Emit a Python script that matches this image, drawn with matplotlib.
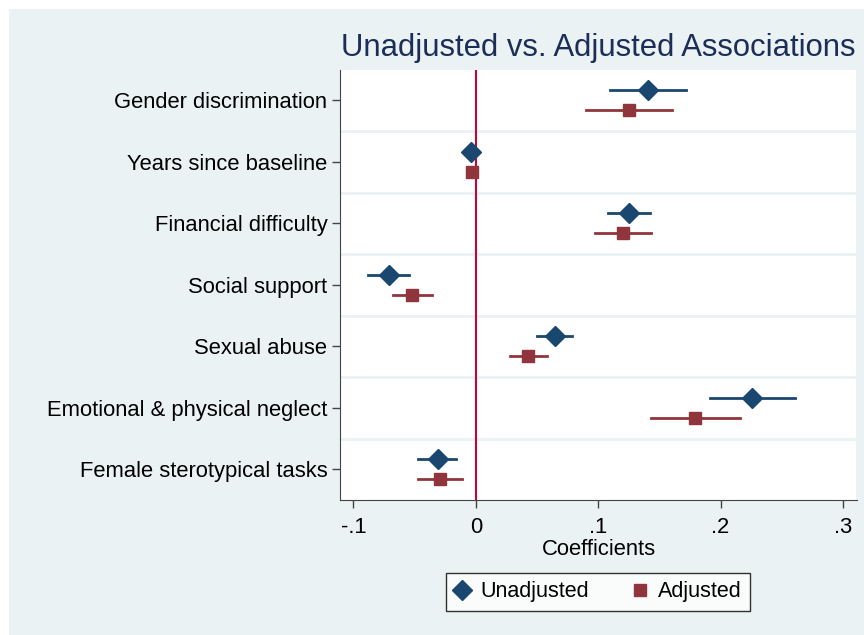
import numpy as np
import matplotlib
matplotlib.use("Agg")
import matplotlib.pyplot as plt
from matplotlib.lines import Line2D
from matplotlib.patches import Rectangle

plt.rcParams['font.family'] = ['Liberation Sans', 'DejaVu Sans']

labels = ["Gender discrimination", "Years since baseline", "Financial difficulty",
          "Social support", "Sexual abuse", "Emotional & physical neglect",
          "Female sterotypical tasks"]

# unadjusted estimates and 95% CI
unadj = [0.141, -0.004, 0.125, -0.071, 0.065, 0.226, -0.031]
unadj_lo = [0.110, -0.005, 0.108, -0.088, 0.050, 0.191, -0.047]
unadj_hi = [0.172, -0.003, 0.142, -0.055, 0.079, 0.261, -0.016]

# adjusted estimates and 95% CI
adj = [0.125, -0.003, 0.120, -0.052, 0.043, 0.179, -0.029]
adj_lo = [0.090, -0.004, 0.097, -0.068, 0.028, 0.143, -0.047]
adj_hi = [0.160, -0.002, 0.143, -0.036, 0.058, 0.216, -0.011]

xticks = [-0.1, 0, 0.1, 0.2, 0.3]
xticklabels = ["-.1", "0", ".1", ".2", ".3"]

navy = '#1a476f'
maroon = '#90353b'
bg = '#eaf2f3'
fs = 15.8

fig = plt.figure(figsize=(8.64, 6.35), dpi=100, facecolor='white')
# stata style outer region
fig.patches.append(Rectangle((9 / 864, 0), 1, 1 - 9 / 635, transform=fig.transFigure,
                             facecolor=bg, edgecolor='none', zorder=-10))

ax = fig.add_axes([340 / 864, 1 - 500 / 635, (857 - 340) / 864, (500 - 69.5) / 635])
ax.set_facecolor('white')

y = np.arange(len(labels))
off = 0.165

for i in range(len(labels)):
    ax.plot([unadj_lo[i], unadj_hi[i]], [y[i] - off] * 2, color=navy, lw=2, zorder=3)
    ax.plot([adj_lo[i], adj_hi[i]], [y[i] + off] * 2, color=maroon, lw=2, zorder=3)
ax.plot(unadj, y - off, 'D', color=navy, ms=10.3, mec=navy, ls='none', zorder=4)
ax.plot(adj, y + off, 's', color=maroon, ms=8.8, mec=maroon, ls='none', zorder=4)

for g in np.arange(0.5, len(labels) - 0.5, 1):
    ax.axhline(g, color=bg, lw=2, zorder=1)
ax.axvline(0, color='#c10534', lw=1.5, zorder=2)

ax.set_ylim(len(labels) - 0.5, -0.5)
ax.set_xlim(-0.111, 0.3115)
ax.set_yticks(y)
ax.set_yticklabels(labels, fontsize=fs)
ax.set_xticks(xticks)
ax.set_xticklabels(xticklabels, fontsize=fs)
ax.tick_params(axis='y', direction='out', length=6, width=1, color='#444444', pad=3)
ax.tick_params(axis='x', direction='out', length=6, width=1, color='#444444', pad=6)
ax.set_xlabel("Coefficients", fontsize=fs, labelpad=1)

ax.spines['top'].set_visible(False)
ax.spines['right'].set_color(bg)
ax.spines['right'].set_linewidth(2)
ax.spines['left'].set_color('#444444')
ax.spines['bottom'].set_color('#444444')

fig.text((340 + 857) / 2 / 864, 1 - 48 / 635, "Unadjusted vs. Adjusted Associations",
         ha='center', va='center', fontsize=22.3, color='#1c2d58')

handles = [Line2D([], [], marker='D', color=navy, ls='none', ms=10),
           Line2D([], [], marker='s', color=maroon, ls='none', ms=9)]
leg = fig.legend(handles, ["Unadjusted", "Adjusted"], loc='center',
                 bbox_to_anchor=(598 / 864, 1 - 592 / 635), ncol=2, fontsize=15.5,
                 frameon=True, fancybox=False, edgecolor='black', handlelength=0.7,
                 handletextpad=0.5, columnspacing=2.0, borderpad=0.4)
leg.get_frame().set_linewidth(1)

fig.savefig("out.png", dpi=100, facecolor=fig.get_facecolor())
